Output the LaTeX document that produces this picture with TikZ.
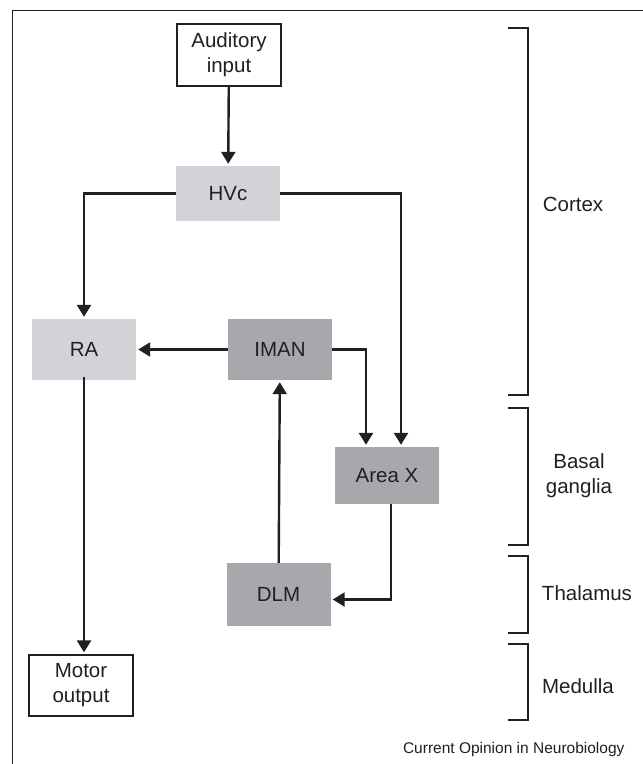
\documentclass[tikz,border=0pt]{standalone}
\usepackage{fontspec}
\setmainfont{Liberation Sans}
\usetikzlibrary{positioning,arrows.meta}
\definecolor{nrlight}{RGB}{210,211,214}
\definecolor{nrdark}{RGB}{167,168,172}
\definecolor{nrline}{RGB}{35,31,32}

\begin{document}
\begin{tikzpicture}[x=1pt, y=-1pt,
  area/.style={minimum width=104pt, minimum height=61pt, inner sep=0pt,
    font=\fontsize{20.5}{25}\selectfont, text=nrline, align=center},
  light/.style={area, fill=nrlight},
  dark/.style={area, fill=nrdark},
  iobox/.style={area, draw=nrline, line width=1.3pt, fill=white},
  conn/.style={draw=nrline, line width=2.4pt, shorten >=2pt,
    -{Triangle[width=14pt,length=12pt]}},
  bracket/.style={draw=nrline, line width=1.4pt},
  region/.style={font=\fontsize{20.5}{25}\selectfont, text=nrline, align=center}]

\useasboundingbox (0,0) rectangle (643,764);
% ================= frame =================
\draw[nrline, line width=0.8pt] (643,10) -- (12,10) -- (12,764);

% ================= nuclei =================
\node[iobox, minimum height=62pt] (audin) at (229,55) {Auditory\\input};
\node[light, minimum height=55pt] (hvc) at (228,193.5) {HVc};
\node[light] (ra) at (84,349.5) {RA};
\node[dark] (lman) at (280,349.5) {IMAN};
\node[dark, minimum height=57pt] (areax) at (387,475.5) {Area X};
\node[dark, minimum height=63pt] (dlm) at (278.5,594.5) {DLM};
\node[iobox] (motor) at (81,685.5) {Motor\\output};

% ================= pathways =================
\draw[conn] (audin) -- (hvc);
\draw[conn] (hvc.west) -| (ra.north);
\draw[conn] (hvc.east) -| ([xshift=14pt]areax.north);
\draw[conn] (lman) -- (ra);
\draw[conn] (lman.east) -| ([xshift=-21pt]areax.north);
\draw[conn] ([xshift=4pt]areax.south) |- ([yshift=-5pt]dlm.east);
\draw[conn] (dlm) -- (lman);
\draw[conn] ([yshift=3pt]ra.south) -- (ra.south |- motor.north);

% ================= brain regions =================
\foreach \ytop/\ybot in {28/395, 408/545, 556/633, 644/720}
  \draw[bracket] (508,\ytop) -- (528,\ytop) -- (528,\ybot) -- (508,\ybot);
\node[region] (cortex) at (573,204) {Cortex};
\node[region] (basal) at (579,476) {Basal\\ganglia};
\node[region] (thal) at (587,593) {Thalamus};
\node[region] (medulla) at (578,686) {Medulla};

\node[anchor=east, font=\fontsize{15.5}{18}\selectfont, text=nrline] (credit)
  at (628,749) {Current Opinion in Neurobiology};
\end{tikzpicture}
\end{document}
